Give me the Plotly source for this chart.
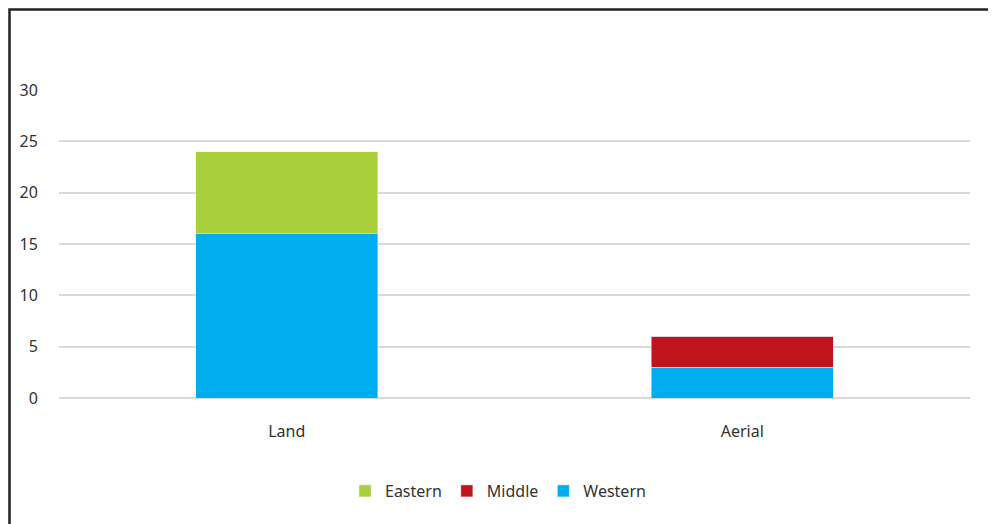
import plotly.graph_objects as go

categories = ["Land", "Aerial"]
western = [16, 3]
middle = [0, 3]
eastern = [8, 0]
y_ticks = [0, 5, 10, 15, 20, 25, 30]

fig = go.Figure()
fig.add_trace(go.Bar(name="Western", x=categories, y=western, marker_color="#00AEEF"))
fig.add_trace(go.Bar(name="Middle", x=categories, y=middle, marker_color="#C0141C"))
fig.add_trace(go.Bar(name="Eastern", x=categories, y=eastern, marker_color="#A9D03A"))

OFF = 8  # page body margin
FW, FH = 996 - OFF, 524 - OFF
L, R, T, B = 59 - OFF, 970 - OFF, 90 - OFF, 398 - OFF
W = R - L
H = B - T
def px(x):
    return (x - OFF - L) / W
def py(y):
    return (B - (y - OFF)) / H

frame_path = "M {:.5f},{:.5f} L {:.5f},{:.5f} L {:.5f},{:.5f}".format(
    px(9.5), py(524), px(9.5), py(9.5), px(994), py(9.5))

fig.update_layout(
    barmode="stack",
    bargap=0.6,
    width=FW, height=FH,
    margin=dict(l=L, r=FW - R, t=T, b=FH - B, pad=0),
    paper_bgcolor="white", plot_bgcolor="white",
    font=dict(family="Noto Sans", size=16, color="#333333"),
    showlegend=True,
    legend=dict(orientation="h", x=px(498), xanchor="center", y=py(491), yanchor="middle",
                traceorder="reversed", font=dict(size=16, color="#333333")),
    xaxis=dict(showgrid=False, showline=False, ticks="outside", ticklen=19, tickcolor="rgba(0,0,0,0)",
               tickfont=dict(size=16)),
    yaxis=dict(range=[0, 30], tickvals=y_ticks, showgrid=True, gridcolor="#D9D9D9", gridwidth=1.5,
               zeroline=True, zerolinecolor="#D9D9D9", zerolinewidth=1.5,
               ticks="outside", ticklen=17, tickcolor="rgba(0,0,0,0)", tickfont=dict(size=16)),
    shapes=[
        dict(type="path", xref="paper", yref="paper", path=frame_path,
             line=dict(color="#222222", width=2.5)),
    ],
)

fig.write_html("out.html")
